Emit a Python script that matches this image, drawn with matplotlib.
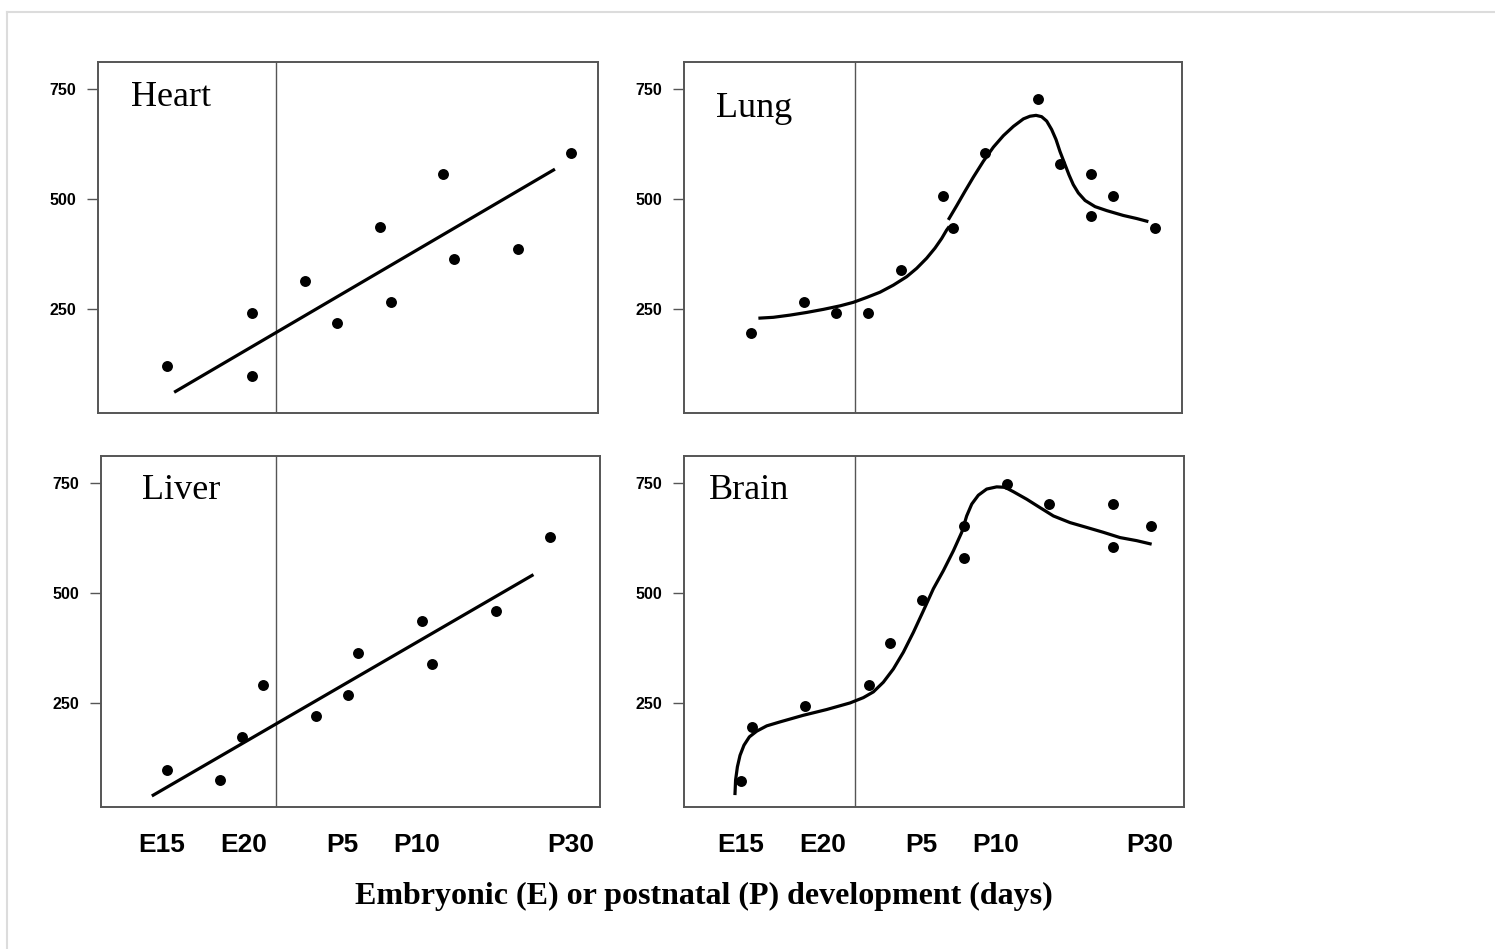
import matplotlib
matplotlib.use('Agg')
import matplotlib.pyplot as plt
from matplotlib.lines import Line2D
import numpy as np

W, H = 1495, 949

# x axis is a positional scale: E15 = 15, E20 = 20, birth ~ 22, then P5, P10, P30
TICK_POS = [15, 20, 26.0, 30.5, 39.9]
TICK_LABELS = ['E15', 'E20', 'P5', 'P10', 'P30']
BIRTH_POS = 21.95
Y_TICKS = [250, 500, 750]

heart_x = [15.33, 20.5, 20.5, 23.74, 25.70, 28.29, 28.94, 32.15, 32.80, 36.70, 39.94]
heart_y = [122, 242, 99, 314, 219, 436, 267, 557, 364, 388, 605]
heart_fit_x = [15.74, 38.96]
heart_fit_y = [62, 568]

lung_x = [15.63, 18.86, 20.81, 22.76, 24.74, 27.29, 27.95, 29.90, 33.13, 34.45, 36.34, 36.34, 37.66, 40.27]
lung_y = [196, 267, 241, 242, 340, 508, 435, 605, 726, 580, 556, 461, 508, 435]
lung_fit1_x = [16.06, 16.97, 17.99, 19.00, 20.02, 21.04, 21.85, 22.66, 23.48, 24.29, 25.10,
               25.71, 26.32, 26.83, 27.24, 27.54, 27.70]
lung_fit1_y = [230, 232, 237, 243, 250, 258, 266, 277, 289, 305, 324,
               343, 366, 389, 411, 430, 438]
lung_fit2_x = [27.64, 28.15, 28.66, 29.17, 29.78, 30.39, 31.00, 31.61, 32.22, 32.62, 32.99, 33.33,
               33.64, 33.94, 34.21, 34.45, 34.72, 35.00, 35.26, 35.57, 35.98, 36.59, 37.30,
               38.31, 39.13, 39.84]
lung_fit2_y = [453, 485, 518, 550, 586, 618, 644, 665, 682, 688, 690, 687,
               677, 658, 635, 608, 582, 555, 533, 514, 497, 483, 474,
               463, 456, 449]

liver_x = [15.33, 18.54, 19.85, 21.18, 24.37, 26.35, 26.98, 30.85, 31.47, 35.39, 38.66]
liver_y = [100, 76, 174, 292, 221, 268, 365, 436, 340, 460, 628]
liver_fit_x = [14.38, 37.65]
liver_fit_y = [40, 542]

brain_x = [14.98, 15.65, 18.90, 22.80, 24.09, 26.02, 28.60, 28.60, 31.20, 33.78, 37.70, 39.98, 37.70]
brain_y = [74, 196, 244, 292, 388, 485, 653, 580, 748, 702, 702, 653, 604]
brain_fit_x = [14.63, 14.67, 14.78, 14.94, 15.18, 15.51, 15.96, 16.57, 17.38, 18.80, 20.22, 21.65,
               22.46, 23.07, 23.68, 24.29, 24.90, 25.51, 26.12, 26.73, 27.34, 27.95, 28.46,
               28.76, 29.07, 29.47, 29.98, 30.59, 31.10, 31.61, 32.42, 33.23, 34.05, 35.06,
               36.08, 37.09, 38.11, 39.13, 40.04]
brain_fit_y = [42, 76, 106, 132, 155, 174, 187, 199, 208, 223, 236, 251,
               263, 276, 298, 328, 366, 411, 460, 510, 551, 596, 638,
               675, 702, 722, 736, 741, 740, 730, 713, 694, 675, 660,
               649, 638, 626, 619, 611]

# layout in pixels: box (left, top, right, bottom), pixel of E15 tick, label offset
PANELS = [
    ('Heart', (98, 62, 598, 413), 162, (0.067, 0.874), heart_x, heart_y, [(heart_fit_x, heart_fit_y)]),
    ('Lung', (684, 62, 1182, 413), 741, (0.064, 0.844), lung_x, lung_y,
     [(lung_fit1_x, lung_fit1_y), (lung_fit2_x, lung_fit2_y)]),
    ('Liver', (101, 456, 600, 807), 162, (0.082, 0.877), liver_x, liver_y, [(liver_fit_x, liver_fit_y)]),
    ('Brain', (684, 456, 1184, 807), 741, (0.049, 0.877), brain_x, brain_y, [(brain_fit_x, brain_fit_y)]),
]
PX_PER_UNIT = 16.4
FRAME = '#555555'

plt.rcParams['font.family'] = ['Liberation Sans', 'DejaVu Sans']

fig = plt.figure(figsize=(W / 100, H / 100), dpi=100)

for name, box, e15_px, lab_pos, px, py, fits in PANELS:
    left, top, right, bottom = box
    ax = fig.add_axes([left / W, 1 - bottom / H, (right - left) / W, (bottom - top) / H])
    ax.set_xlim(15 - (e15_px - left) / PX_PER_UNIT, 15 + (right - e15_px) / PX_PER_UNIT)
    ax.set_ylim(15, 811)
    ax.axvline(BIRTH_POS, color=FRAME, lw=1.0)
    for fx, fy in fits:
        ax.plot(fx, fy, color='black', lw=2.3, solid_capstyle='butt', solid_joinstyle='round')
    ax.scatter(px, py, s=62, color='black', zorder=3, linewidths=0)
    for sp in ax.spines.values():
        sp.set_color(FRAME)
        sp.set_linewidth(1.4)
    ax.set_yticks(Y_TICKS)
    ax.set_yticklabels([str(v) for v in Y_TICKS], fontsize=11.5, fontweight='bold')
    ax.tick_params(axis='y', direction='out', length=8, width=1, color=FRAME, pad=8)
    ax.set_xticks(TICK_POS)
    if top > 400:
        ax.set_xticklabels(TICK_LABELS, fontsize=19, fontweight='bold')
    else:
        ax.set_xticklabels([])
    ax.tick_params(axis='x', length=0, pad=19)
    ax.text(lab_pos[0], lab_pos[1], name, transform=ax.transAxes, ha='left', va='baseline',
            fontsize=26, family=['Liberation Serif', 'DejaVu Serif'])

fig.text(704 / W, 1 - 904 / H, 'Embryonic (E) or postnatal (P) development (days)',
         ha='center', va='baseline', fontsize=23, fontweight='bold',
         family=['Liberation Serif', 'DejaVu Serif'])

# light frame around the figure
border = '#dcdcdc'
fig.add_artist(Line2D([7 / W, 7 / W], [0, 1 - 12 / H], transform=fig.transFigure, color=border, lw=1.5))
fig.add_artist(Line2D([7 / W, 1], [1 - 12 / H, 1 - 12 / H], transform=fig.transFigure, color=border, lw=1.5))

fig.savefig('out.png', dpi=100)
